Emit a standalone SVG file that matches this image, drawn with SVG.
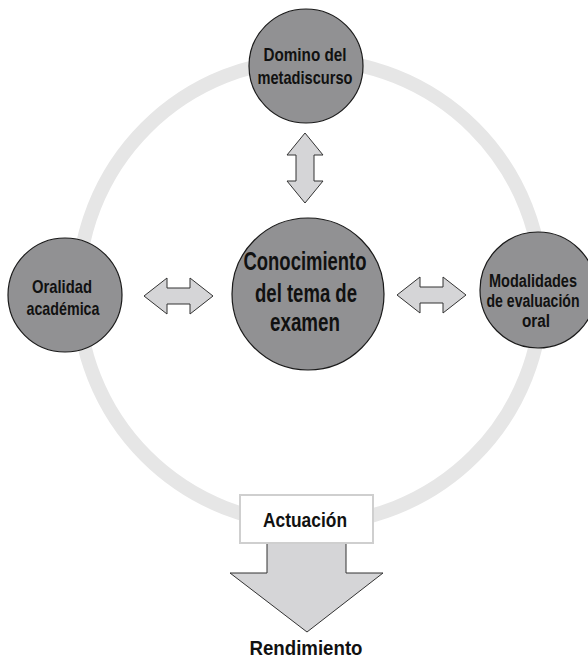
<svg xmlns="http://www.w3.org/2000/svg" width="588" height="661" viewBox="0 0 588 661">
<style>
.node{fill:#919193;stroke:#1a1a1a;stroke-width:1.2}
.arr{fill:#d5d5d7;stroke:#333;stroke-width:1}
.t{font-family:"Liberation Sans Narrow","Liberation Sans",Arial,sans-serif;font-weight:bold;fill:#111;text-anchor:middle}
.s{font-size:19px}
.r{font-size:18px}
.b{font-size:26px}
.m{font-size:21px}
</style>
<rect width="588" height="661" fill="#fff"/>
<circle id="ring" cx="310" cy="292" r="232" fill="none" stroke="#e6e6e6" stroke-width="14"/>
<g id="connectors">
<polygon class="arr" points="305,133 323,155 314,155 314,181 323,181 305,203 287,181 296,181 296,155 287,155"/>
<polygon class="arr" points="144,296 167,278 167,288 190,288 190,278 213,296 190,314 190,304 167,304 167,314"/>
<polygon class="arr" points="397,295 420,277 420,287 443,287 443,277 466,295 443,313 443,303 420,303 420,313"/>
<polygon class="arr" points="267,540 346,540 346,573 383,573 307,632 230,573 267,573"/>
</g>
<g id="n-top">
<circle class="node" cx="306" cy="66" r="57"/>
<text class="t s" x="305" y="61" textLength="83" lengthAdjust="spacingAndGlyphs">Domino del</text>
<text class="t s" x="305" y="84" textLength="95" lengthAdjust="spacingAndGlyphs">metadiscurso</text>
</g>
<g id="n-center">
<circle class="node" cx="308" cy="294" r="76"/>
<text class="t b" x="305" y="270" textLength="123" lengthAdjust="spacingAndGlyphs">Conocimiento</text>
<text class="t b" x="306" y="302" textLength="102" lengthAdjust="spacingAndGlyphs">del tema de</text>
<text class="t b" x="305" y="331" textLength="70" lengthAdjust="spacingAndGlyphs">examen</text>
</g>
<g id="n-left">
<circle class="node" cx="65" cy="295" r="57"/>
<text class="t s" x="62" y="293" textLength="60" lengthAdjust="spacingAndGlyphs">Oralidad</text>
<text class="t s" x="63" y="315" textLength="73" lengthAdjust="spacingAndGlyphs">académica</text>
</g>
<g id="n-right">
<circle class="node" cx="538" cy="290" r="58"/>
<text class="t r" x="533" y="287" textLength="88" lengthAdjust="spacingAndGlyphs">Modalidades</text>
<text class="t r" x="533" y="307" textLength="93" lengthAdjust="spacingAndGlyphs">de evaluación</text>
<text class="t r" x="536" y="327" textLength="28" lengthAdjust="spacingAndGlyphs">oral</text>
</g>
<g id="n-actuacion">
<rect x="240" y="495" width="133" height="48" fill="#fff" stroke="#cfcfcf" stroke-width="2"/>
<text class="t m" x="305" y="527" textLength="84" lengthAdjust="spacingAndGlyphs">Actuación</text>
</g>
<g id="n-rendimiento">
<text class="t m" x="306" y="655" textLength="113" lengthAdjust="spacingAndGlyphs">Rendimiento</text>
</g>
</svg>
